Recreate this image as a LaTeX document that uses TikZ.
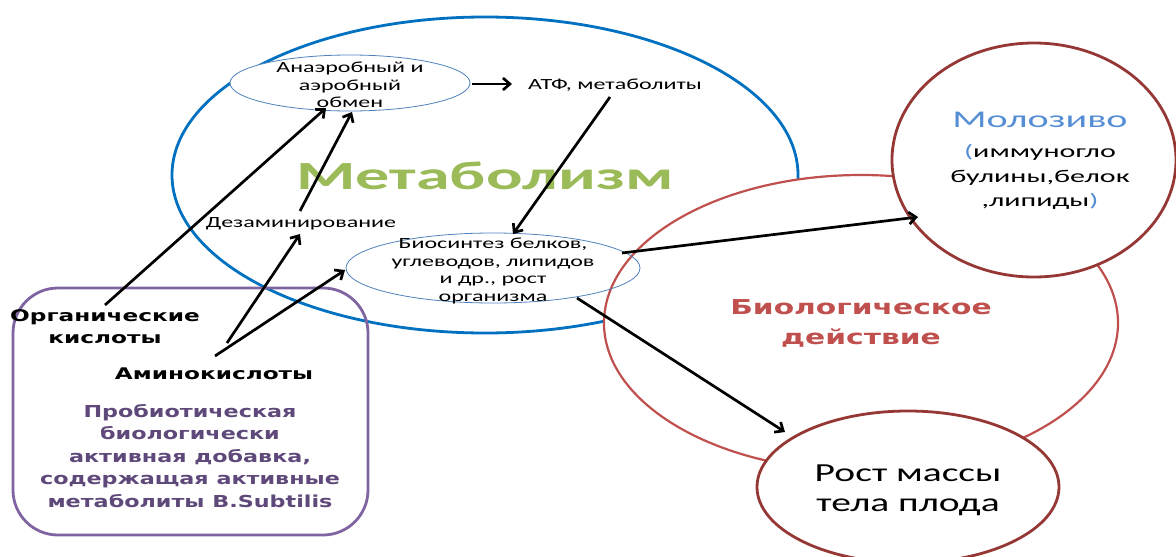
\documentclass[tikz,border=0pt]{standalone}
\usepackage{fontspec}
\setmainfont{DejaVu Sans}
\newfontfamily\calf[FakeStretch=1.55]{Carlito}
\newfontfamily\calm[FakeStretch=1.70]{Carlito}
\newfontfamily\calr[FakeStretch=1.52]{Carlito}
\newfontfamily\calo[FakeStretch=1.67]{Carlito}
\newfontfamily\dvw[FakeStretch=1.45]{DejaVu Sans}
\newfontfamily\dvp[FakeStretch=1.35]{DejaVu Sans}
\usetikzlibrary{shapes.geometric,arrows.meta}
\definecolor{metblue}{HTML}{0070C0}
\definecolor{thinblue}{HTML}{4F81BD}
\definecolor{bioRed}{HTML}{C0504D}
\definecolor{darkRed}{HTML}{953735}
\definecolor{boxPurple}{HTML}{8064A2}
\definecolor{txtPurple}{HTML}{5F497A}
\definecolor{metGreen}{HTML}{9BBB59}
\definecolor{moloBlue}{HTML}{558ED5}
\tikzset{
  ell/.style={ellipse, inner sep=0pt, outer sep=0pt},
  smallell/.style={ell, draw=thinblue, line width=0.8pt},
  circ/.style={ell, draw=darkRed, line width=2.8pt, fill=white},
  arr/.style={line width=2.7pt, -{Straight Barb[length=7pt,width=12pt,line width=2.7pt]}},
  txt/.style={align=center, inner sep=0pt, font=\calf\fontsize{15.5}{17.5}\selectfont},
}
\begin{document}
\begin{tikzpicture}[x=1pt,y=-1pt]
\useasboundingbox (0,0) rectangle (1176,557);
\clip (0,0) rectangle (1176,557);
% big metabolism ellipse
\node[ell, draw=metblue, line width=2.8pt, minimum width=626pt, minimum height=316pt] (met) at (485,175) {};
% purple box
\draw[boxPurple, line width=2.8pt, rounded corners=45pt] (13,288) rectangle (368,535);
% biological action
\node[ell, draw=bioRed, line width=2.2pt, fill=white, minimum width=514pt, minimum height=296pt] (bio) at (861,323) {};
% small ellipses
\node[smallell, fill=white, minimum width=240pt, minimum height=56pt] (anaer) at (350,83) {};
\node[smallell, minimum width=294pt, minimum height=70pt] (biosyn) at (493,268) {};
% molozivo and growth
\node[circ, minimum width=284pt, minimum height=234pt] (molo) at (1034,160) {};
\node[circ, minimum width=302pt, minimum height=152pt] (rost) at (908,487) {};
% texts
\node[font=\calm\fontsize{40}{46}\bfseries\selectfont, text=metGreen, inner sep=0pt] (metT) at (485,176) {Метаболизм};
\node[txt] (anaerT) at (350,85) {Анаэробный и\\аэробный\\обмен};
\node[txt, anchor=west] (atf) at (528,85) {АТФ, метаболиты};
\node[txt] (dez) at (301,224) {Дезаминирование};
\node[txt] (biosynT) at (493,271) {Биосинтез белков,\\углеводов, липидов\\и др., рост\\организма};
\node[align=center, inner sep=0pt, text=bioRed, font=\dvw\fontsize{20.5}{30}\bfseries\selectfont] (bioT) at (861,323) {Биологическое\\действие};
\node[inner sep=0pt, text=moloBlue, font=\calo\fontsize{24}{28}\selectfont] (moloT) at (1040,120) {Молозиво};
\node[align=center, inner sep=0pt, font=\calo\fontsize{18}{24.5}\selectfont] (moloS) at (1040,177) {\textcolor{moloBlue}{(}иммуногло\\булины,белок\\,липиды\textcolor{moloBlue}{)}};
\node[align=center, inner sep=0pt, font=\calr\fontsize{26}{30}\selectfont] (rostT) at (908,490) {Рост массы\\тела плода};
\node[align=center, inner sep=0pt, font=\dvw\fontsize{16}{22}\bfseries\selectfont] (org) at (105,327) {Органические\\кислоты};
\node[inner sep=0pt, font=\dvw\fontsize{16}{22}\bfseries\selectfont] (amino) at (214,374) {Аминокислоты};
\node[align=center, inner sep=0pt, text=txtPurple, font=\dvp\fontsize{16.5}{22.5}\bfseries\selectfont] (prob) at (190,456) {Пробиотическая\\биологически\\активная добавка,\\содержащая активные\\метаболиты B.Subtilis};
% arrow end points
\coordinate (o1) at (105,305);
\coordinate (a1) at (326,108);
\coordinate (d1) at (300,211);
\coordinate (a2) at (352,112);
\coordinate (m1) at (227,343);
\coordinate (d2) at (300,234);
\coordinate (m2) at (215,356);
\coordinate (b1) at (345,270);
\coordinate (t1) at (610,97);
\coordinate (b2) at (513,234);
\coordinate (an) at (472,84);
\coordinate (t2) at (512,84);
\coordinate (b3) at (622,253);
\coordinate (mo) at (918,217);
\coordinate (b4) at (577,298);
\coordinate (ro) at (785,432);
% arrows
\draw[arr] (o1) -- (a1);
\draw[arr] (d1) -- (a2);
\draw[arr] (m1) -- (d2);
\draw[arr] (m2) -- (b1);
\draw[arr] (t1) -- (b2);
\draw[arr] (an) -- (t2);
\draw[arr] (b3) -- (mo);
\draw[arr] (b4) -- (ro);
\end{tikzpicture}
\end{document}
